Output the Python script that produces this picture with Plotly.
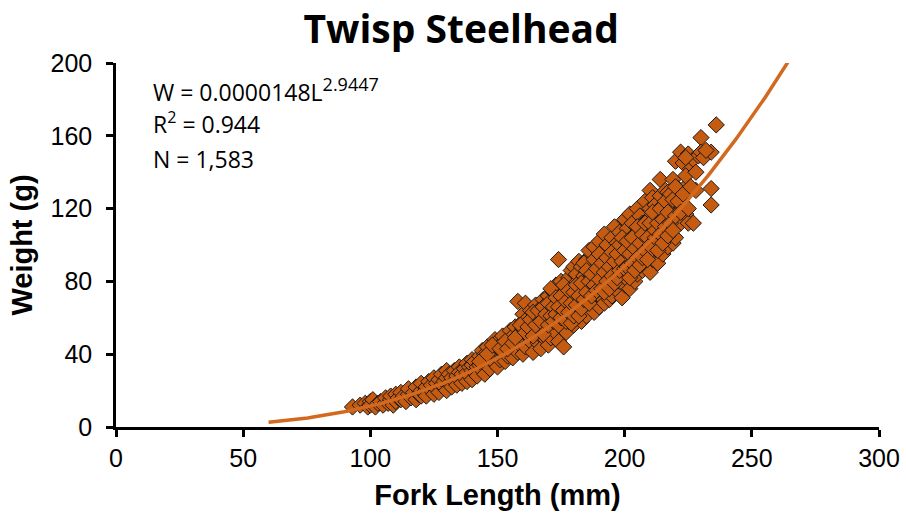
import numpy as np
import plotly.graph_objects as go

# ---------------- data ----------------
title_text = "Twisp Steelhead"
x_title = "Fork Length (mm)"
y_title = "Weight (g)"
x_ticks = [0, 50, 100, 150, 200, 250, 300]
y_ticks = [0, 40, 80, 120, 160, 200]

coef_a = 0.0000148
coef_b = 2.9447
r_squared = 0.944
n_fish = "1,583"
fit_start = 60
fit_end = 264.2

fork_length = [
    93, 96, 98, 99, 100, 100, 101, 102, 103,
    104, 105, 106, 107, 108, 108, 109, 110, 110, 111,
    112, 112, 113, 114, 115, 115, 116, 117, 118, 118, 119, 120, 120, 120,
    121, 122, 122, 123, 124, 124, 125, 125, 126, 126, 127, 127, 128, 128, 129, 129, 130, 130, 130,
    131, 131, 132, 132, 133, 133, 134, 134, 135, 135, 135, 136, 136, 137, 137, 138, 138, 138, 139, 139, 140, 140, 140, 140,
    141, 141, 142, 142, 143, 143, 144, 144, 145, 145, 145, 146, 146, 147, 147, 148, 148, 149, 149, 149, 150, 150, 150, 150,
    151, 151, 152, 152, 153, 153, 154, 154, 155, 155, 155, 156, 156, 157, 157, 158, 158, 158, 159, 159, 160, 160, 160, 160, 160,
    161, 161, 161, 162, 162, 163, 163, 163, 164, 164, 165, 165, 165, 166, 166, 166, 167, 167, 167, 168, 168, 168, 169, 169, 169, 170, 170, 170, 170, 170,
    171, 171, 171, 172, 172, 172, 173, 173, 173, 174, 174, 174, 174, 175, 175, 175, 176, 176, 176, 177, 177, 177, 178, 178, 178, 179, 179, 179, 180, 180, 180, 180, 180,
    181, 181, 181, 182, 182, 182, 183, 183, 183, 184, 184, 184, 185, 185, 185, 185, 186, 186, 186, 187, 187, 187, 188, 188, 188, 188, 189, 189, 189, 190, 190, 190, 190, 190,
    191, 191, 191, 192, 192, 192, 192, 193, 193, 193, 194, 194, 194, 195, 195, 195, 195, 196, 196, 196, 197, 197, 197, 198, 198, 198, 199, 199, 199, 200, 200, 200, 200, 200,
    201, 201, 201, 202, 202, 202, 202, 203, 203, 203, 204, 204, 204, 205, 205, 205, 205, 206, 206, 206, 207, 207, 207, 208, 208, 208, 209, 209, 209, 210, 210, 210, 210, 210,
    211, 211, 211, 212, 212, 212, 213, 213, 213, 214, 214, 214, 214, 215, 215, 215, 216, 216, 216, 217, 217, 217, 218, 218, 219, 219, 219, 220, 220, 220, 220,
    221, 221, 222, 222, 222, 223, 223, 224, 224, 225, 225, 226, 227, 227, 228, 229, 230, 230, 231, 234, 234, 236, 234,
    143, 146, 148, 151, 153, 154, 156, 157, 159, 161, 162, 163, 164, 164, 165, 166, 167, 168, 168, 169,
    170, 170, 171, 171, 172, 172, 173, 173, 174, 174, 175, 175, 176, 176, 177, 177, 178, 178, 179, 179,
    180, 180, 181, 181, 182, 182, 183, 183, 184, 184, 185, 185, 186, 186, 187, 187, 188, 188, 189, 189,
    190, 190, 191, 191, 192, 192, 193, 193, 194, 194, 195, 195, 196, 196, 197, 197, 198, 198, 199, 199,
    200, 200, 201, 201, 202, 202, 203, 203, 204, 204, 205, 205, 206, 206, 207, 207, 208, 208, 209, 209,
    210, 210, 211, 211, 212, 212, 213, 213, 214, 214, 215, 215, 216, 216, 217, 217, 218, 218, 219, 219,
    220, 220, 221, 222, 223, 224, 225, 226, 228, 232, 224,
]
weight = [
    11, 12, 13, 11, 14, 12, 15, 11, 13,
    14, 12, 16, 13, 15, 17, 12, 14, 18, 16,
    15, 19, 17, 14, 18, 21, 16, 19, 15, 22, 18, 17, 20, 24,
    19, 22, 17, 25, 20, 23, 18, 27, 21, 24, 26, 19, 23, 29, 22, 25, 27, 20, 31,
    24, 29, 22, 27, 31, 25, 28, 23, 33, 26, 30, 29, 24, 32, 27, 35, 30, 25, 33, 28, 37, 31, 26, 34,
    30, 36, 33, 28, 39, 34, 31, 42, 36, 29, 40, 34, 44, 38, 32, 41, 36, 48, 35, 44, 39, 33, 47, 42,
    37, 45, 41, 50, 36, 44, 48, 39, 53, 42, 46, 38, 50, 44, 55, 69, 41, 48, 52, 45, 58, 40, 49, 54, 62,
    44, 56, 68, 50, 60, 47, 54, 64, 41, 58, 52, 62, 67, 46, 56, 60, 50, 65, 43, 55, 62, 70, 48, 58, 66, 52, 60, 72, 45, 64,
    56, 68, 49, 62, 74, 53, 58, 66, 78, 92, 47, 61, 70, 55, 65, 80, 59, 72, 44, 63, 76, 52, 68, 82, 58, 62, 74, 86, 56, 70, 78, 65, 88,
    60, 73, 84, 66, 79, 91, 58, 71, 88, 64, 76, 83, 69, 80, 92, 61, 74, 86, 97, 66, 79, 90, 63, 72, 84, 99, 70, 81, 93, 66, 77, 88, 102, 72,
    71, 84, 96, 68, 79, 91, 106, 74, 86, 100, 70, 81, 94, 77, 89, 104, 72, 84, 97, 110, 75, 88, 101, 80, 92, 107, 71, 85, 98, 78, 90, 104, 114, 84,
    81, 95, 109, 76, 88, 101, 117, 84, 97, 112, 80, 92, 106, 88, 100, 120, 84, 95, 108, 116, 86, 99, 112, 91, 104, 124, 88, 97, 114, 94, 106, 120, 130, 85,
    92, 110, 126, 98, 115, 122, 90, 104, 119, 100, 112, 136, 127, 95, 108, 121, 103, 117, 130, 99, 111, 129, 106, 120, 101, 114, 136, 110, 124, 146, 104,
    118, 131, 151, 112, 126, 145, 120, 117, 132, 150, 112, 142, 112, 147, 130, 149, 159, 151, 148, 131, 122, 166, 151,
    36, 40, 45, 43, 47, 43, 46, 49, 56, 52, 55, 59, 50, 63, 56, 64, 58, 51, 66, 62,
    56, 68, 61, 76, 58, 66, 62, 71, 56, 66, 60, 72, 64, 78, 58, 69, 63, 75, 57, 68,
    61, 74, 67, 78, 61, 72, 65, 79, 70, 90, 74, 86, 68, 80, 72, 84, 78, 92, 75, 87,
    81, 95, 76, 90, 74, 85, 80, 93, 76, 88, 83, 96, 79, 91, 82, 95, 86, 100, 91, 104,
    87, 97, 88, 102, 82, 95, 90, 104, 86, 98, 93, 110, 89, 101, 93, 106, 97, 112, 92, 104,
    100, 112, 98, 118, 104, 108, 97, 112, 106, 120, 101, 114, 110, 124, 105, 118, 112, 128, 108, 125,
    116, 132, 124, 118, 128, 138, 120, 132, 140, 152, 148,
]

# ---------------- figure ----------------
orange = "#C55A11"
fit_line_color = "#D2691E"

fit_x = np.linspace(fit_start, fit_end, 200)
fit_y = coef_a * fit_x ** coef_b

fig = go.Figure()
fig.add_trace(go.Scatter(
    x=fork_length, y=weight, mode="markers",
    marker=dict(symbol="diamond", size=12.5, color=orange,
                line=dict(color="#1a1a1a", width=1)),
    showlegend=False, hoverinfo="x+y",
))
fig.add_trace(go.Scatter(
    x=fit_x, y=fit_y, mode="lines",
    line=dict(color=fit_line_color, width=3.5),
    showlegend=False, hoverinfo="skip",
))

ann_font = dict(family="Open Sans, sans-serif", size=23, color="black")
sup_style = "font-size:18px"
ann_lines = [
    f"W = {coef_a:.7f}L<sup><span style='{sup_style}'>{coef_b}</span></sup>",
    f"R<sup>2</sup> = {r_squared}",
    f"N = {n_fish}",
]
ann_y = [0.927, 0.834, 0.735]
for txt, yy in zip(ann_lines, ann_y):
    fig.add_annotation(text=txt, x=0.046, y=yy, xref="paper", yref="paper",
                       xanchor="left", yanchor="middle", showarrow=False,
                       font=ann_font)

axis_common = dict(
    showgrid=False, zeroline=False, showline=True, linecolor="black",
    linewidth=2.5, ticks="outside", ticklen=7, tickwidth=2.5, tickcolor="black",
    automargin=False,
    tickfont=dict(family="Liberation Sans, Arial, sans-serif", size=25, color="black"),
)

fig.update_layout(
    width=906, height=518,
    margin=dict(l=116, r=27, t=63, b=91),
    paper_bgcolor="white", plot_bgcolor="white",
    title=dict(text=f"<b>{title_text}</b>", x=0.509, xanchor="center",
               y=0.944, yanchor="middle",
               font=dict(family="Open Sans, sans-serif", size=39, color="black")),
    xaxis=dict(range=[0, 300], tickvals=x_ticks, ticktext=[str(v) for v in x_ticks],
               title=dict(text=f"<b>{x_title}</b>", standoff=14,
                          font=dict(family="Liberation Sans, Arial, sans-serif", size=29, color="black")),
               **axis_common),
    yaxis=dict(range=[0, 200], tickvals=y_ticks, ticktext=[str(v) for v in y_ticks],
               ticklabelstandoff=9,
               title=dict(text=f"<b>{y_title}</b>", standoff=10,
                          font=dict(family="Liberation Sans, Arial, sans-serif", size=29, color="black")),
               **axis_common),
)

fig.write_html("out.html", config={"displayModeBar": False},
               post_script="document.body.style.margin='0';")
